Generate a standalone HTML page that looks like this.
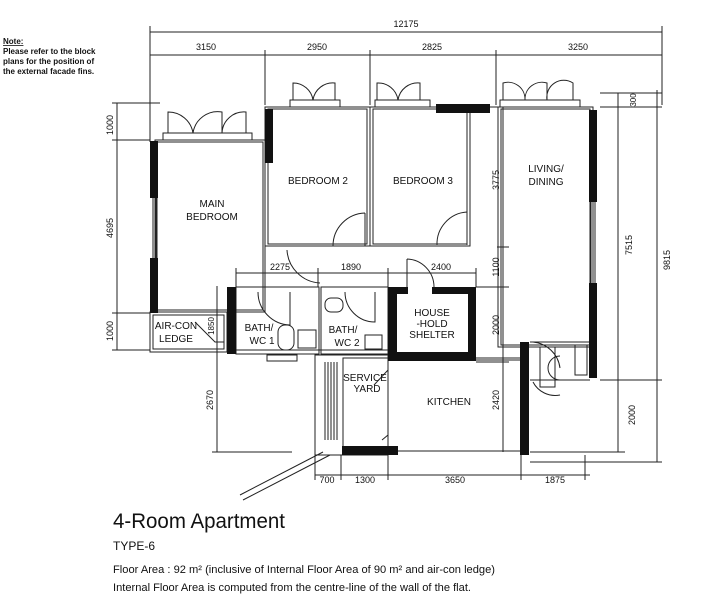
<!DOCTYPE html>
<html><head><meta charset="utf-8"><style>
html,body{margin:0;padding:0;background:#fff}
svg{display:block}
text{font-family:"Liberation Sans",sans-serif;fill:#111}
.d{font-size:9px}
.r{font-size:10px}
</style></head><body>
<svg width="723" height="600" viewBox="0 0 723 600" xmlns="http://www.w3.org/2000/svg">
<g stroke="#222" stroke-width="1" fill="none">
<!-- top dims -->
<line x1="150" y1="32" x2="662" y2="32"/>
<line x1="150" y1="55" x2="662" y2="55"/>
<line x1="150" y1="26" x2="150" y2="142"/>
<line x1="662" y1="26" x2="662" y2="105"/>
<line x1="265" y1="50" x2="265" y2="105"/>
<line x1="370" y1="50" x2="370" y2="105"/>
<line x1="496" y1="50" x2="496" y2="105"/>
<!-- left dims -->
<line x1="117" y1="103" x2="117" y2="350"/>
<line x1="112" y1="103" x2="160" y2="103"/>
<line x1="112" y1="140" x2="150" y2="140"/>
<line x1="112" y1="313" x2="150" y2="313"/>
<line x1="112" y1="350" x2="150" y2="350"/>
<line x1="217" y1="286" x2="217" y2="452"/>
<line x1="212" y1="452" x2="292" y2="452"/>
<!-- right dims -->
<line x1="618" y1="93" x2="618" y2="452"/>
<line x1="657" y1="90" x2="657" y2="462"/>
<line x1="600" y1="93" x2="662" y2="93"/>
<line x1="600" y1="107" x2="662" y2="107"/>
<line x1="600" y1="380" x2="662" y2="380"/>
<line x1="530" y1="452" x2="625" y2="452"/>
<line x1="530" y1="462" x2="662" y2="462"/>
<!-- inner vertical dim -->
<line x1="503" y1="107" x2="503" y2="452"/>
<line x1="497" y1="247" x2="509" y2="247"/>
<line x1="476" y1="287" x2="509" y2="287"/>
<line x1="476" y1="362" x2="509" y2="362"/>
<!-- inner horizontal dim -->
<line x1="236" y1="273" x2="476" y2="273"/>
<line x1="236" y1="268" x2="236" y2="287"/>
<line x1="318" y1="268" x2="318" y2="287"/>
<line x1="388" y1="268" x2="388" y2="287"/>
<line x1="476" y1="268" x2="476" y2="287"/>
<!-- bottom dims -->
<line x1="315" y1="475" x2="590" y2="475"/>
<line x1="315" y1="455" x2="315" y2="480"/>
<line x1="341" y1="455" x2="341" y2="480"/>
<line x1="388" y1="455" x2="388" y2="480"/>
<line x1="521" y1="455" x2="521" y2="480"/>
<line x1="585" y1="455" x2="585" y2="480"/>
<!-- rooms -->
<rect x="155" y="140" width="110" height="172"/>
<rect x="157" y="142" width="106" height="168"/>
<rect x="265" y="107" width="105" height="139"/>
<rect x="268" y="109" width="99" height="135"/>
<rect x="370" y="107" width="100" height="139"/>
<rect x="373" y="109" width="94" height="135"/>
<rect x="498" y="107" width="95" height="240"/>
<rect x="501" y="109" width="89" height="236"/>
<line x1="265" y1="107" x2="498" y2="107"/>
<rect x="150" y="312" width="77" height="40"/>
<rect x="153" y="315" width="71" height="34"/>
<rect x="236" y="287" width="83" height="67"/>
<rect x="321" y="287" width="67" height="67"/>
<line x1="236" y1="350" x2="388" y2="350"/>
<rect x="315" y="355" width="73" height="100"/>
<rect x="343" y="358" width="45" height="90"/>
<rect x="388" y="358" width="133" height="93"/>
<line x1="388" y1="360" x2="388" y2="447"/>
<line x1="475" y1="360" x2="520" y2="360"/>
<line x1="530" y1="342" x2="590" y2="342"/>
<line x1="530" y1="380" x2="590" y2="380"/>
<rect x="540" y="347" width="15" height="40"/>
<rect x="575" y="345" width="12" height="30"/>
<!-- stairs/slats -->
<line x1="325" y1="362" x2="325" y2="440"/>
<line x1="328" y1="362" x2="328" y2="440"/>
<line x1="331" y1="362" x2="331" y2="440"/>
<line x1="334" y1="362" x2="334" y2="440"/>
<line x1="337" y1="362" x2="337" y2="440"/>
<!-- diagonal -->
<line x1="330" y1="455" x2="243" y2="500"/>
<line x1="323" y1="452" x2="240" y2="495"/>
<!-- windows -->
<rect x="163" y="133" width="89" height="7"/>
<rect x="290" y="100" width="50" height="7"/>
<rect x="375" y="100" width="55" height="7"/>
<rect x="500" y="100" width="80" height="7"/>
<line x1="153" y1="197" x2="153" y2="258"/>
<line x1="156" y1="197" x2="156" y2="258"/>
<line x1="591" y1="202" x2="591" y2="283"/>
<line x1="595" y1="202" x2="595" y2="283"/>
<!-- window leaf arcs -->
<path d="M168 133 V112 A25 25 0 0 1 193 133 M193 133 A25 25 0 0 1 222 112 V133 M222 133 A22 22 0 0 1 246 112 V133"/>
<path d="M293 100 V83 A20 20 0 0 1 313 100 M313 100 A20 20 0 0 1 335 83 V100"/>
<path d="M377 100 V83 A20 20 0 0 1 398 100 M398 100 A20 20 0 0 1 420 83 V100"/>
<path d="M503 100 V83 A17 17 0 0 1 525 100 M525 100 A17 17 0 0 1 547 83 V100 M547 100 A17 17 0 0 1 573 83 V100"/>
<!-- doors -->
<path d="M365 213 A33 33 0 0 0 333 246 M365 213 V246"/>
<path d="M467 212 A32 32 0 0 0 437 245 M467 212 V245"/>
<path d="M287 250 A35 35 0 0 0 320 283"/>
<path d="M407 259 V287 M407 259 A28 28 0 0 1 434 287"/>
<path d="M258 292 A33 33 0 0 0 290 325 V292"/>
<path d="M345 292 A30 30 0 0 0 375 322 V292"/>
<path d="M533 342 A30 30 0 0 1 560 368"/>
<path d="M533 382 A25 25 0 0 0 560 395"/>
<path d="M560 356 A12 12 0 0 0 560 380"/>
<path d="M195 322 L215 342 L224 342"/>
<!-- fixtures -->
<rect x="278" y="325" width="16" height="25" rx="7"/>
<rect x="298" y="330" width="18" height="18"/>
<rect x="365" y="335" width="17" height="14"/>
<rect x="325" y="298" width="18" height="14" rx="6"/>
<rect x="267" y="355" width="30" height="6"/>
<path d="M374 385 L388 370 V435 L382 440"/>
</g>
<!-- black walls -->
<g fill="#111">
<rect x="150" y="141" width="8" height="57"/>
<rect x="150" y="258" width="8" height="55"/>
<rect x="265" y="109" width="8" height="54"/>
<rect x="436" y="104" width="54" height="9"/>
<rect x="589" y="110" width="8" height="92"/>
<rect x="589" y="283" width="8" height="95"/>
<rect x="227" y="287" width="9" height="67"/>
<path d="M388 287 H408 V294 H397 V352 H468 V294 H432 V287 H476 V361 H388 Z"/>
<rect x="342" y="446" width="56" height="9"/>
<rect x="520" y="342" width="9" height="113"/>
</g>
<!-- dim labels -->
<g class="d" text-anchor="middle">
<text x="406" y="27">12175</text>
<text x="206" y="50">3150</text>
<text x="317" y="50">2950</text>
<text x="432" y="50">2825</text>
<text x="578" y="50">3250</text>
<text x="280" y="270">2275</text>
<text x="351" y="270">1890</text>
<text x="441" y="270">2400</text>
<text x="327" y="483">700</text>
<text x="365" y="483">1300</text>
<text x="455" y="483">3650</text>
<text x="555" y="483">1875</text>
<text transform="translate(113 125) rotate(-90)">1000</text>
<text transform="translate(113 228) rotate(-90)">4695</text>
<text transform="translate(113 331) rotate(-90)">1000</text>
<text transform="translate(213 400) rotate(-90)">2670</text>
<text transform="translate(214 326) rotate(-90)" font-size="8">1850</text>
<text transform="translate(499 180) rotate(-90)">3775</text>
<text transform="translate(499 267) rotate(-90)">1100</text>
<text transform="translate(499 325) rotate(-90)">2000</text>
<text transform="translate(499 400) rotate(-90)">2420</text>
<text transform="translate(636 100) rotate(-90)" font-size="8">300</text>
<text transform="translate(632 245) rotate(-90)">7515</text>
<text transform="translate(670 260) rotate(-90)">9815</text>
<text transform="translate(635 415) rotate(-90)">2000</text>
</g>
<!-- room labels -->
<g class="r" text-anchor="middle">
<text x="212" y="207">MAIN</text>
<text x="212" y="220">BEDROOM</text>
<text x="318" y="184">BEDROOM 2</text>
<text x="423" y="184">BEDROOM 3</text>
<text x="546" y="172">LIVING/</text>
<text x="546" y="185">DINING</text>
<text x="176" y="329">AIR-CON</text>
<text x="176" y="342">LEDGE</text>
<text x="259" y="331">BATH/</text>
<text x="262" y="344">WC 1</text>
<text x="343" y="333">BATH/</text>
<text x="347" y="346">WC 2</text>
<text x="432" y="316">HOUSE</text>
<text x="432" y="327">-HOLD</text>
<text x="432" y="338">SHELTER</text>
<text x="365" y="381">SERVICE</text>
<text x="367" y="392">YARD</text>
<text x="449" y="405">KITCHEN</text>
</g>
<!-- note -->
<g font-size="8" font-weight="bold">
<text x="3" y="44" text-decoration="underline">Note:</text>
<text x="3" y="54">Please refer to the block</text>
<text x="3" y="64">plans for the position of</text>
<text x="3" y="74">the external facade fins.</text>
</g>
<text x="113" y="528" font-size="21" textLength="172" lengthAdjust="spacingAndGlyphs">4-Room Apartment</text>
<text x="113" y="550" font-size="12">TYPE-6</text>
<text x="113" y="573" font-size="11" textLength="382" lengthAdjust="spacingAndGlyphs">Floor Area :  92 m²   (inclusive of Internal Floor Area of 90 m² and air-con ledge)</text>
<text x="113" y="591" font-size="11" textLength="358" lengthAdjust="spacingAndGlyphs">Internal Floor Area is computed from the centre-line of the wall of the flat.</text>
</svg>
</body></html>
